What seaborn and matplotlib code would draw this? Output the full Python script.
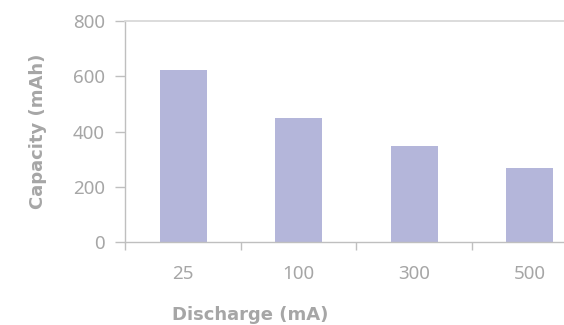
import matplotlib
matplotlib.use("Agg")
import matplotlib.pyplot as plt
from matplotlib.ticker import FixedLocator
import seaborn as sns
import pandas as pd

discharge = ["25", "100", "300", "500"]
capacity = [623, 450, 350, 270]
y_ticks = [0, 200, 400, 600, 800]

sns.set_theme(style="white")
plt.rcParams["font.family"] = ["Noto Sans", "DejaVu Sans"]

grey_text = "#a6a6a6"
grey_line = "#bfbfbf"
bar_color = "#b4b6da"

df = pd.DataFrame({"Discharge": discharge, "Capacity": capacity})

fig = plt.figure(figsize=(5.64, 3.25), dpi=100)
ax = fig.add_axes([0.2225, 0.254, 0.819, 0.681])

sns.barplot(data=df, x="Discharge", y="Capacity", color=bar_color,
            width=0.405, saturation=1, linewidth=0, ax=ax)

ax.set_xlim(-0.5, 3.5)
ax.set_ylim(0, 800)
ax.set_yticks(y_ticks)

for side in ("left", "bottom"):
    ax.spines[side].set_color(grey_line)
    ax.spines[side].set_linewidth(1.0)
ax.spines["top"].set_color("#d9d9d9")
ax.spines["top"].set_linewidth(1.3)
ax.spines["right"].set_visible(False)

ax.tick_params(axis="y", which="major", direction="out", length=7, width=1,
               color=grey_line, labelcolor=grey_text, labelsize=13.5, pad=8, left=True)
ax.tick_params(axis="x", which="major", length=0, labelcolor=grey_text,
               labelsize=13.5, pad=16)
ax.xaxis.set_minor_locator(FixedLocator([-0.5, 0.5, 1.5, 2.5]))
ax.tick_params(axis="x", which="minor", direction="out", length=6, width=1,
               color=grey_line, bottom=True)

label_font = dict(color=grey_text, fontsize=13, fontweight="bold",
                  family=["DejaVu Sans"])
ax.set_xlabel("Discharge (mA)", **label_font)
ax.xaxis.set_label_coords(0.2695, -0.285)
ax.set_ylabel("Capacity (mAh)", **label_font)
ax.yaxis.set_label_coords(-0.170, 0.5)

fig.savefig("out.png", dpi=100)
